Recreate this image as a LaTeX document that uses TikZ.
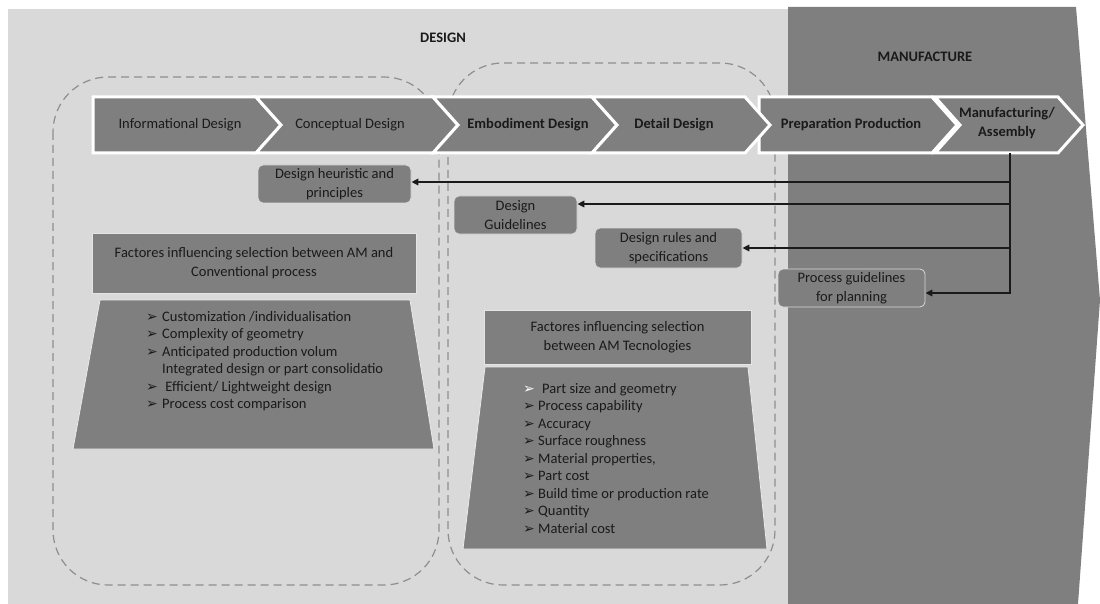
\documentclass[tikz,border=0pt]{standalone}
\usepackage{fontspec}
\setmainfont{Carlito}
\newfontfamily\symfont{DejaVu Sans}
\usetikzlibrary{arrows.meta}
\definecolor{bgl}{HTML}{D9D9D9}
\definecolor{bgd}{HTML}{7F7F7F}
\definecolor{ink}{HTML}{1A1A1A}
\definecolor{dashc}{HTML}{8E8E8E}
\newcommand{\bodyfont}{\fontsize{14.5}{17.5}\selectfont}
\newcommand{\itemmark}{\makebox[10pt][l]{\symfont\fontsize{14}{14}\selectfont ➢}}
% one step of the process bar: left x, right x, depth of the left notch
\newcommand{\chevron}[3]{\draw[chev] (#1,97) -- (#2,97) -- ({#2+25},125) -- (#2,153) -- (#1,153) -- ({#1+#3},125) -- cycle;}
\begin{document}
\begin{tikzpicture}[x=1pt,y=-1pt,
  every node/.style={text=ink, font=\bodyfont, inner sep=0pt},
  bold/.style={font=\bodyfont\bfseries},
  chev/.style={fill=bgd, draw=white, line width=3pt, line join=miter},
  group/.style={draw=dashc, dash pattern=on 8pt off 5pt, line width=1.2pt, rounded corners=55pt},
  tag/.style={fill=bgd, draw=white!85!black, line width=0.8pt, rounded corners=5pt, align=center,
              font=\fontsize{14.5}{18.5}\selectfont},
  head/.style={fill=bgd, draw=white!90!black, line width=0.8pt, align=center,
              font=\fontsize{14.5}{18.5}\selectfont},
  trap/.style={fill=bgd, draw=white!92!black, line width=0.8pt},
  feed/.style={draw=ink, line width=1.8pt, -{Triangle[length=7pt,width=6.5pt]}},
]
\useasboundingbox (0,0) rectangle (1100,604);

% phase areas
\fill[bgl] (8,9) rectangle (790,604);
\fill[bgd] (788,7) -- (1076,7) -- (1100,300) -- (1078,604) -- (788,604) -- cycle;
\node[bold] (design) at (443,38) {DESIGN};
\node[bold] (manuf) at (925,57) {MANUFACTURE};

% dashed groupings
\draw[group] (53,77) rectangle (439,585);
\draw[group] (448,63) rectangle (775,585);

% process bar
\chevron{93}{256}{0}
\chevron{256}{433}{25}
\chevron{433}{592}{25}
\chevron{759}{932}{0}
\chevron{592}{745}{25}
\chevron{935}{1058}{25}
\node (info) at (180,125) {Informational Design};
\node (conc) at (350,125) {Conceptual Design};
\node[bold] (emb) at (528,125) {Embodiment Design};
\node[bold] (det) at (674,125) {Detail Design};
\node[bold] (prep) at (851,125) {Preparation Production};
\node[bold, align=center, font=\fontsize{14.5}{19.5}\selectfont\bfseries] (mfa) at (1007,123) {Manufacturing/\\Assembly};

% feedback boxes
\node[tag, minimum width=153pt, minimum height=38pt] (dh) at (334.5,184) {Design heuristic and\\principles};
\node[tag, minimum width=123pt, minimum height=38pt] (dg) at (515.5,215) {Design\\Guidelines};
\node[tag, minimum width=147pt, minimum height=40pt] (dr) at (668.5,248) {Design rules and\\specifications};
\node[tag, minimum width=147pt, minimum height=38pt] (pg) at (851.5,288) {Process guidelines\\for planning};

% feedback connectors
\coordinate (mfbase) at (1010,153);
\coordinate (j1) at (1010,182);
\coordinate (j2) at (1010,204);
\coordinate (j3) at (1010,248);
\coordinate (j4) at (1010,293);
\draw[feed] (mfbase) -- (j4) -- (j4 -| pg.east);
\draw[feed] (j1) -- (j1 -| dh.east);
\draw[feed] (j2) -- (j2 -| dg.east);
\draw[feed] (j3) -- (j3 -| dr.east);

% selection factors: AM vs conventional
\node[head, minimum width=324pt, minimum height=60pt] (fa) at (254,263)
  {Factores influencing selection between AM and\\Conventional process};
\fill[trap] (100,300) -- (410,300) -- (434,449) -- (73,449) -- cycle;
\node[anchor=base west] (la) at (146,321) {\bodyfont\begin{tabular}[t]{@{}l@{\hspace{6pt}}l@{}}
  \itemmark & Customization /individualisation\\
  \itemmark & Complexity of geometry\\
  \itemmark & Anticipated production volum\\
            & Integrated design or part consolidatio\\
  \itemmark & \ Efficient/ Lightweight design\\
  \itemmark & Process cost comparison
\end{tabular}};

% selection factors: among AM technologies
\node[head, minimum width=267pt, minimum height=54pt] (fb) at (617.5,337)
  {Factores influencing selection\\between AM Tecnologies};
\fill[trap] (485,367) -- (748,367) -- (767,549) -- (463,549) -- cycle;
\node[anchor=base west] (lb) at (523,393) {\bodyfont\begin{tabular}[t]{@{}l@{\hspace{5pt}}l@{}}
  \textcolor{white}{\itemmark} & \hspace{4pt}Part size and geometry\\
  \itemmark & Process capability\\
  \itemmark & Accuracy\\
  \itemmark & Surface roughness\\
  \itemmark & Material properties,\\
  \itemmark & Part cost\\
  \itemmark & Build time or production rate\\
  \itemmark & Quantity\\
  \itemmark & Material cost
\end{tabular}};
\end{tikzpicture}
\end{document}
